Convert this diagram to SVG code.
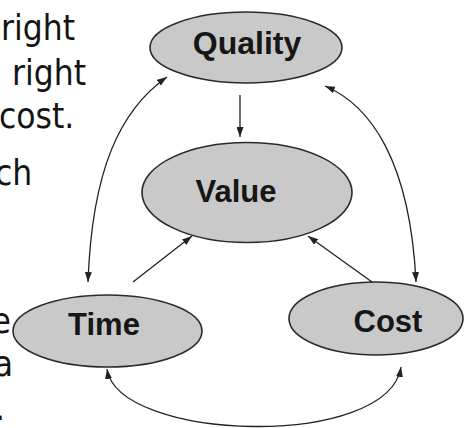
<svg xmlns="http://www.w3.org/2000/svg" width="464" height="428" viewBox="0 0 464 428">
  <style>
    .bg { fill: #ffffff; }
    .node ellipse { fill: #c9c9c9; stroke: #2a2a2a; stroke-width: 1.6; }
    .node text { font-family: "Liberation Sans", Arial, sans-serif; font-weight: bold; font-size: 31px; fill: #161616; text-anchor: middle; }
    .body { font-family: "DejaVu Sans Condensed", "DejaVu Sans", sans-serif; font-stretch: condensed; font-size: 35px; fill: #141414; }
    .edge { fill: none; stroke: #222222; stroke-width: 1.3; }
  </style>
  <defs>
    <marker id="arrow" viewBox="0 0 10 7" markerUnits="userSpaceOnUse" markerWidth="10" markerHeight="7" refX="10" refY="3.5" orient="auto-start-reverse">
      <path d="M0,0 L10,3.5 L0,7 z" fill="#222222"/>
    </marker>
  </defs>

  <rect class="bg" x="0" y="0" width="464" height="428"/>

  <!-- slide body text, clipped at the left edge -->
  <g id="body-text" class="body">
    <text x="1" y="40">right</text>
    <text x="12" y="85">right</text>
    <text x="-1" y="128">cost.</text>
    <text x="-5" y="185">ch</text>
    <text x="11" y="333" text-anchor="end">e</text>
    <text x="13" y="376" text-anchor="end">a</text>
    <text x="5" y="420" text-anchor="end">.</text>
  </g>

  <!-- connectors -->
  <g id="connectors">
    <path class="edge" d="M240,95 L240,137" marker-end="url(#arrow)"/>
    <path class="edge" d="M133,282 L192,236" marker-end="url(#arrow)"/>
    <path class="edge" d="M372,282 L308,236" marker-end="url(#arrow)"/>
    <path class="edge" d="M167,77 C120,110 92,170 88,282" marker-start="url(#arrow)" marker-end="url(#arrow)"/>
    <path class="edge" d="M325,86 C370,105 410,160 416,282" marker-start="url(#arrow)" marker-end="url(#arrow)"/>
    <path class="edge" d="M107,369 C118,442 388,450 401,367" marker-start="url(#arrow)" marker-end="url(#arrow)"/>
  </g>

  <!-- nodes -->
  <g id="quality" class="node">
    <ellipse cx="246" cy="47.5" rx="96" ry="35.5"/>
    <text x="247" y="54" style="font-size:32px">Quality</text>
  </g>
  <g id="value" class="node">
    <ellipse cx="247" cy="192.5" rx="105" ry="50"/>
    <text x="236" y="202">Value</text>
  </g>
  <g id="time" class="node">
    <ellipse cx="107.5" cy="331" rx="94.5" ry="36"/>
    <text x="104" y="335">Time</text>
  </g>
  <g id="cost" class="node">
    <ellipse cx="376" cy="318.5" rx="87" ry="36.5"/>
    <text x="388" y="332">Cost</text>
  </g>
</svg>
